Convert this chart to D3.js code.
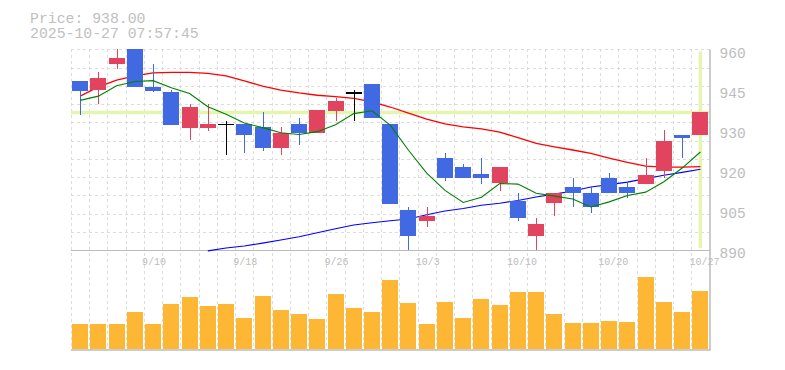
<!DOCTYPE html>
<html>
<head>
<meta charset="utf-8">
<script src="https://cdn.jsdelivr.net/npm/d3@7"></script>
<style>
    body { margin: 0; background: #fff; }
    text { font-family: "Liberation Mono", "DejaVu Sans Mono", monospace; }
</style>
</head>
<body>
<script>

var dates = ["9/4","9/5","9/8","9/9","9/10","9/11","9/12","9/16","9/17","9/18",
    "9/19","9/22","9/24","9/25","9/26","9/29","9/30","10/1","10/2","10/3",
    "10/6","10/7","10/8","10/9","10/10","10/14","10/15","10/16","10/17","10/20",
    "10/21","10/22","10/23","10/24","10/27"];

var open  = [949, 946, 955, 960, 947, 945, 932.5, 932.5, 934, 934, 933, 925.5, 934, 931, 938.5, 945, 948, 934, 904, 900,
    922, 919, 916.5, 913.5, 907, 895, 906.5, 912, 910, 915, 912, 913, 917.5, 930, 930];
var high  = [949, 952, 960, 960, 955, 946, 941, 941, 935, 934, 938, 933, 936, 939, 943, 946, 948, 934, 905, 905,
    924, 920, 922, 919, 910, 901, 910, 915, 912, 917, 913.5, 922, 932, 930, 938];
var low   = [937, 941, 953, 947, 945, 933.5, 928.5, 931.5, 923, 924, 924.5, 923, 926.5, 931, 935, 935, 936, 906, 890, 898,
    914, 915, 913, 910.5, 900, 890, 902, 905, 903, 910, 908, 913, 915, 922, 930];
var close = [945.5, 950, 957, 947, 945.5, 933.5, 940, 934, 934, 930, 925.5, 931, 931, 939, 942, 945, 936, 906, 895, 902,
    915, 915, 915, 919, 901, 899, 910, 910, 905, 910, 910, 916, 928, 929, 938];

// moving averages
var ma5  = [942.2, 943.7, 947.3, 948.8, 949.1, 946.6, 944.6, 940, 937.4, 934.3, 932.7, 930.9, 930.3, 931.3, 933.7, 937.6, 938.6, 933.6, 924.8, 916.8,
    910.8, 906.6, 908.4, 913.2, 913, 909.8, 908.8, 907.8, 905, 906.8, 909, 910.2, 913.8, 918.6, 924.2];
var ma25 = [943.7, 946.9, 949.3, 950.8, 951.8, 952, 952, 951.6, 950.8, 949, 947.2, 945.8, 944.8, 944, 943.5, 942.9, 941.7, 939.9, 937.8, 935.7,
    934, 933, 932.3, 931.1, 929.2, 927.2, 926, 924.9, 923.7, 922.1, 920.6, 919.3, 918.9, 918.9, 919.1];
var ma75 = [null, null, null, null, null, null, null, 889.7, 890.7, 891.4, 892.4, 893.5, 894.6, 896, 897.4, 898.7, 899.5, 900.2, 900.8, 902.3,
    903.6, 904.5, 905.6, 906.3, 907.3, 908.5, 909.5, 910.6, 912, 912.8, 913.7, 914.9, 916.1, 917.1, 918.2];

// volume (thousand shares)
var volume = [100, 100, 100, 148, 100, 180, 208, 172, 180, 124, 212, 156, 140, 120, 220, 164, 148, 276, 184, 100,
    188, 124, 200, 176, 228, 228, 140, 104, 104, 112, 108, 288, 188, 148, 232];

var priceTicks = [890, 904, 918, 932, 946, 960];
var priceTickLabels = ["890", "905", "920", "930", "945", "960"];
var dateLabels = ["9/10", "9/18", "9/26", "10/3", "10/10", "10/20", "10/27"];

var stamp = "2025-10-27 07:57:45";
var lastPrice = close[close.length - 1];

var left = 71, right = 709.5;
var pTop = 49.4, pBottom = 250;
var vTop = 259, vBottom = 349;

var svg = d3.select("body").append("svg")
    .attr("width", 785)
    .attr("height", 370);

var x = d3.scaleBand().domain(dates).range([left, right]).padding(0);
var y = d3.scaleLinear().domain([890, 960]).range([pBottom, pTop]);
var yv = d3.scaleLinear().domain([0, 360]).range([vBottom, vTop]);

function cx(i) { return x(dates[i]) + x.bandwidth() / 2; }

// grid
var grid = svg.append("g")
    .attr("stroke", "#dcdcdc")
    .attr("stroke-dasharray", "3,3")
    .attr("shape-rendering", "crispEdges");

d3.range(dates.length).forEach(function(i) {
    var gx = Math.round(x(dates[i])) + 0.5;
    grid.append("line")
        .attr("x1", gx).attr("x2", gx)
        .attr("y1", pTop).attr("y2", 350);
});

var cell = (pBottom - pTop) / 11;
d3.range(1, 12).forEach(function(k) {
    var gy = Math.round(pBottom - k * cell) + 0.5;
    grid.append("line")
        .attr("x1", left).attr("x2", right)
        .attr("y1", gy).attr("y2", gy);
});

// current price highlight
svg.append("line")
    .attr("x1", left).attr("x2", right)
    .attr("y1", y(lastPrice)).attr("y2", y(lastPrice))
    .attr("stroke", "#e3f5ae")
    .attr("stroke-width", 3.5);

svg.append("line")
    .attr("x1", cx(dates.length - 1)).attr("x2", cx(dates.length - 1))
    .attr("y1", pTop + 2).attr("y2", pBottom - 2)
    .attr("stroke", "#e3f5ae")
    .attr("stroke-width", 3.5);

// frame
svg.append("line")
    .attr("x1", left).attr("x2", right + 1)
    .attr("y1", pBottom + 0.5).attr("y2", pBottom + 0.5)
    .attr("stroke", "#bbb");
svg.append("line")
    .attr("x1", left).attr("x2", right + 1)
    .attr("y1", 350).attr("y2", 350)
    .attr("stroke", "#bbb")
    .attr("stroke-width", 1.5);
svg.append("line")
    .attr("x1", right + 0.5).attr("x2", right + 0.5)
    .attr("y1", pTop).attr("y2", 350)
    .attr("stroke", "#bbb")
    .attr("stroke-width", 1.5);

// moving averages
function maLine(arr) {
    return d3.line()
        .defined(function(d) { return d !== null; })
        .x(function(d, i) { return cx(i); })
        .y(function(d) { return y(d); })(arr);
}

svg.append("path").attr("d", maLine(ma25))
    .attr("fill", "none").attr("stroke", "#ff0000").attr("stroke-width", 1.3);
svg.append("path").attr("d", maLine(ma75))
    .attr("fill", "none").attr("stroke", "#0000ff").attr("stroke-width", 1.1);

// candles
function candleColor(i) {
    if (close[i] > open[i]) {
        return "#e2445f";
    }
    else if (close[i] < open[i]) {
        return "#4169e1";
    }
    else {
        return "#000";
    }
}

var candles = svg.append("g").attr("shape-rendering", "crispEdges");

candles.selectAll("line.wick")
    .data(dates)
    .enter().append("line")
    .attr("class", "wick")
    .attr("x1", function(d, i) { return Math.round(cx(i)) + 0.5; })
    .attr("x2", function(d, i) { return Math.round(cx(i)) + 0.5; })
    .attr("y1", function(d, i) { return y(high[i]); })
    .attr("y2", function(d, i) { return y(low[i]); })
    .attr("stroke", function(d, i) { return candleColor(i); })
    .attr("stroke-width", 1);

candles.selectAll("rect.body")
    .data(dates)
    .enter().append("rect")
    .attr("class", "body")
    .attr("x", function(d, i) { return Math.round(cx(i)) - 8; })
    .attr("width", 16)
    .attr("y", function(d, i) { return y(Math.max(open[i], close[i])); })
    .attr("height", function(d, i) {
        return Math.max(1.5, Math.abs(y(open[i]) - y(close[i])));
    })
    .attr("fill", function(d, i) { return candleColor(i); });

svg.append("path").attr("d", maLine(ma5))
    .attr("fill", "none").attr("stroke", "#008000").attr("stroke-width", 1.1);

// volume
svg.append("g").attr("shape-rendering", "crispEdges")
    .selectAll("rect")
    .data(volume)
    .enter().append("rect")
    .attr("x", function(d, i) { return Math.round(cx(i)) - 8; })
    .attr("width", 16)
    .attr("y", function(d) { return yv(d); })
    .attr("height", function(d) { return vBottom - yv(d); })
    .attr("fill", "#fdb734");

// axes
var yAxis = svg.append("g")
    .attr("transform", "translate(" + right + ",0)")
    .call(d3.axisRight(y)
        .tickValues(priceTicks)
        .tickSize(0)
        .tickPadding(10)
        .tickFormat(function(d, i) { return priceTickLabels[i]; }));
yAxis.select(".domain").remove();
yAxis.selectAll("text")
    .attr("fill", "#bdbdbd")
    .attr("dy", "0.55em")
    .style("font-size", "14.5px")
    .style("font-family", "'Liberation Mono', monospace");

var xAxis = svg.append("g")
    .attr("transform", "translate(0," + pBottom + ")")
    .call(d3.axisBottom(x)
        .tickValues(dateLabels)
        .tickSize(0)
        .tickPadding(0));
xAxis.select(".domain").remove();
xAxis.selectAll("text")
    .attr("fill", "#bdbdbd")
    .attr("text-anchor", "start")
    .attr("x", -11)
    .attr("y", 15)
    .attr("dy", 0)
    .style("font-size", "10px")
    .style("font-family", "'Liberation Mono', monospace");

// header
svg.append("text")
    .attr("x", 30).attr("y", 23)
    .attr("fill", "#c0c0c0")
    .style("font-size", "14.8px")
    .text("Price: " + lastPrice.toFixed(2));
svg.append("text")
    .attr("x", 30).attr("y", 38)
    .attr("fill", "#c0c0c0")
    .style("font-size", "14.8px")
    .text(stamp);

</script>
</body>
</html>
